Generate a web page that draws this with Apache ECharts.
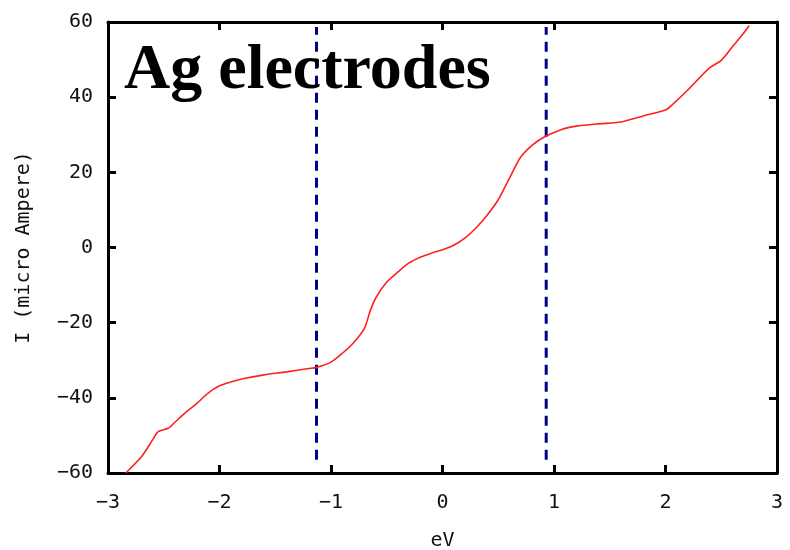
<!DOCTYPE html>
<html>
<head>
<meta charset="utf-8">
<script src="https://cdn.jsdelivr.net/npm/echarts@6/dist/echarts.min.js"></script>
<style>
  html, body { margin: 0; padding: 0; background: #fff; }
  #main { width: 790px; height: 550px; }
</style>
</head>
<body>
<div id="main"></div>
<script>
// bias voltage (eV) and current (micro Ampere)
var voltage = [-2.84, -2.7, -2.6, -2.55, -2.46, -2.4, -2.3, -2.2, -2.1, -2.0, -1.9, -1.8,
  -1.6, -1.4, -1.2, -1.13, -1.0, -0.9, -0.8, -0.7, -0.65, -0.6, -0.5, -0.4, -0.3, -0.2,
  -0.1, 0, 0.1, 0.2, 0.3, 0.4, 0.5, 0.6, 0.7, 0.8, 0.9, 1.0, 1.1, 1.2, 1.4, 1.6, 1.8,
  2.0, 2.05, 2.2, 2.3, 2.4, 2.5, 2.6, 2.7, 2.75];
var current = [-60, -55.7, -51.2, -49.0, -48.1, -46.5, -43.8, -41.4, -38.7, -36.8, -35.8, -35.0,
  -33.9, -33.1, -32.2, -31.9, -30.5, -28.2, -25.4, -21.5, -17.0, -13.5, -9.2, -6.5, -4.1, -2.6,
  -1.5, -0.6, 0.6, 2.5, 5.2, 8.6, 12.7, 18.4, 24.0, 27.1, 29.2, 30.6, 31.7, 32.3, 32.9, 33.4, 35.0,
  36.6, 37.7, 41.9, 45.0, 47.9, 49.8, 53.4, 57.0, 59.0];

// dashed markers
var leftMarkX = [-1.13, -1.13];
var rightMarkX = [0.93, 0.93];
var markY = [-56.5, 58.7];

var xTicks = [-3, -2, -1, 0, 1, 2, 3];
var yTicks = [-60, -40, -20, 0, 20, 40, 60];

function pairs(xs, ys) {
  return xs.map(function (x, i) { return [x, ys[i]]; });
}
function minus(v) {
  return String(v).replace('-', '\u2212');
}

var myChart = echarts.init(document.getElementById('main'));

var axisFont = 'DejaVu Sans Mono';
var lineStyle = { color: '#000', width: 3 };
var tickStyle = { show: true, inside: true, length: 8, lineStyle: { color: '#000', width: 3 } };

myChart.setOption({
  animation: false,
  grid: { left: 108, right: 13, top: 22, bottom: 77, outerBoundsMode: 'none', containLabel: false },
  graphic: [{
    type: 'text',
    left: 124,
    top: 39,
    z: 100,
    style: {
      text: 'Ag electrodes',
      font: 'bold 64px "Liberation Serif"',
      fill: '#000'
    }
  }],
  xAxis: [{
    type: 'value',
    min: xTicks[0],
    max: xTicks[xTicks.length - 1],
    interval: 1,
    name: 'eV',
    nameLocation: 'middle',
    nameGap: 58,
    nameTextStyle: { fontFamily: axisFont, fontSize: 20, color: '#111' },
    axisLine: { onZero: false, lineStyle: lineStyle },
    axisTick: tickStyle,
    splitLine: { show: false },
    axisLabel: { fontFamily: axisFont, fontSize: 20, color: '#111', margin: 20, formatter: minus }
  }, {
    type: 'value',
    position: 'top',
    min: xTicks[0],
    max: xTicks[xTicks.length - 1],
    interval: 1,
    axisLine: { onZero: false, lineStyle: lineStyle },
    axisTick: tickStyle,
    splitLine: { show: false },
    axisLabel: { show: false }
  }],
  yAxis: [{
    type: 'value',
    min: yTicks[0],
    max: yTicks[yTicks.length - 1],
    interval: 20,
    name: 'I (micro Ampere)',
    nameLocation: 'middle',
    nameGap: 74,
    nameTextStyle: { fontFamily: axisFont, fontSize: 20, color: '#111' },
    axisLine: { show: true, onZero: false, lineStyle: lineStyle },
    axisTick: tickStyle,
    splitLine: { show: false },
    axisLabel: { fontFamily: axisFont, fontSize: 20, color: '#111', margin: 15, formatter: minus }
  }, {
    type: 'value',
    position: 'right',
    min: yTicks[0],
    max: yTicks[yTicks.length - 1],
    interval: 20,
    axisLine: { show: true, onZero: false, lineStyle: lineStyle },
    axisTick: tickStyle,
    splitLine: { show: false },
    axisLabel: { show: false }
  }],
  series: [{
    type: 'line',
    data: pairs(leftMarkX, markY),
    showSymbol: false,
    silent: true,
    lineStyle: { color: '#000088', width: 3, type: [10, 7] }
  }, {
    type: 'line',
    data: pairs(rightMarkX, markY),
    showSymbol: false,
    silent: true,
    lineStyle: { color: '#000088', width: 3, type: [10, 7] }
  }, {
    type: 'line',
    data: pairs(voltage, current),
    showSymbol: false,
    smooth: 0.25,
    lineStyle: { color: '#ff2020', width: 1.6 }
  }]
});
</script>
</body>
</html>
